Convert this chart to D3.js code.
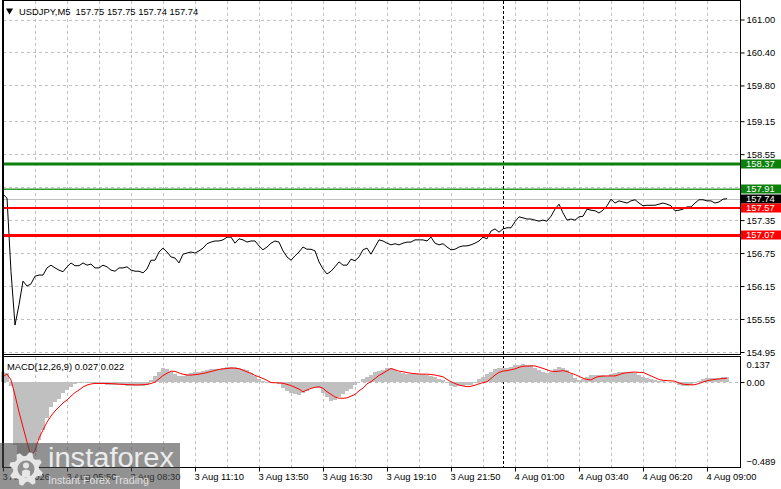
<!DOCTYPE html>
<html>
<head>
<meta charset="utf-8">
<script src="https://cdn.jsdelivr.net/npm/d3@7"></script>
<style>
    html, body { margin: 0; padding: 0; background: #fff; }
    svg { display: block; font-family: "Liberation Sans", Arial, sans-serif; }
</style>
</head>
<body>
<svg id="chart" width="781" height="489"></svg>
<script>
const symbol = "USDJPY,M5"
const lastOhlc = [157.75, 157.75, 157.74, 157.74]

// one value every 2 bars (10 minutes)
const closes = [
    157.82, 157.75, 156.41, 155.44, 155.81, 156.24, 156.15, 156.19, 156.33, 156.35,
    156.35, 156.48, 156.53, 156.48, 156.44, 156.41, 156.50, 156.57, 156.52, 156.52,
    156.57, 156.53, 156.55, 156.48, 156.48, 156.53, 156.50, 156.44, 156.42, 156.48,
    156.48, 156.50, 156.44, 156.42, 156.42, 156.39, 156.46, 156.62, 156.62, 156.77,
    156.84, 156.77, 156.68, 156.66, 156.57, 156.73, 156.75, 156.77, 156.75, 156.79,
    156.84, 156.92, 156.95, 156.97, 156.97, 156.99, 157.04, 157.04, 156.93, 157.01,
    156.99, 156.95, 156.97, 156.97, 156.88, 156.81, 156.86, 156.93, 156.97, 156.95,
    156.79, 156.68, 156.62, 156.70, 156.77, 156.86, 156.82, 156.82, 156.79, 156.59,
    156.46, 156.37, 156.42, 156.50, 156.59, 156.53, 156.53, 156.64, 156.61, 156.68,
    156.81, 156.84, 156.73, 156.86, 156.99, 156.97, 156.93, 156.90, 156.92, 156.90,
    156.93, 156.95, 156.95, 156.99, 156.99, 156.99, 156.97, 157.04, 156.93, 156.90,
    156.92, 156.86, 156.81, 156.82, 156.86, 156.88, 156.88, 156.90, 156.93, 156.97,
    157.04, 157.01, 157.15, 157.19, 157.13, 157.19, 157.21, 157.21, 157.32, 157.41,
    157.39, 157.37, 157.37, 157.35, 157.33, 157.35, 157.33, 157.42, 157.55, 157.64,
    157.48, 157.35, 157.37, 157.35, 157.41, 157.42, 157.55, 157.53, 157.52, 157.48,
    157.53, 157.61, 157.73, 157.66, 157.70, 157.68, 157.66, 157.70, 157.72, 157.66,
    157.61, 157.62, 157.62, 157.62, 157.64, 157.66, 157.64, 157.61, 157.52, 157.53,
    157.55, 157.59, 157.59, 157.66, 157.72, 157.72, 157.70, 157.70, 157.66, 157.68,
    157.73, 157.74
]

const macdMain = [
    0.057, 0.051, -0.023, -0.358, -0.432, -0.46, -0.47, -0.455, -0.40, -0.33,
    -0.273, -0.205, -0.142, -0.114, -0.097, -0.063, -0.046, -0.028, -0.011, -0.006,
    0, -0.005, -0.008, -0.01, -0.01, -0.012, -0.015, -0.015, -0.017, -0.017,
    -0.018, -0.02, -0.02, -0.02, -0.02, -0.02, -0.015, 0.01, 0.035, 0.06,
    0.078, 0.075, 0.06, 0.045, 0.035, 0.035, 0.045, 0.05, 0.055, 0.06,
    0.064, 0.068, 0.072, 0.074, 0.077, 0.08, 0.085, 0.087, 0.085, 0.08,
    0.074, 0.068, 0.05, 0.035, 0.02, 0.005, -0.005, -0.003, -0.005, -0.01,
    -0.035, -0.05, -0.063, -0.07, -0.073, -0.06, -0.05, -0.035, -0.03, -0.035,
    -0.065, -0.085, -0.11, -0.103, -0.085, -0.07, -0.05, -0.04, -0.015, 0.0,
    0.015, 0.03, 0.042, 0.055, 0.062, 0.07, 0.078, 0.078, 0.07, 0.058,
    0.05, 0.045, 0.045, 0.045, 0.045, 0.045, 0.04, 0.035, 0.03, 0.015,
    0.01, -0.005, -0.02, -0.026, -0.025, -0.02, -0.018, -0.015, -0.005, 0.015,
    0.03, 0.045, 0.06, 0.075, 0.078, 0.08, 0.082, 0.085, 0.095, 0.1,
    0.103, 0.1, 0.096, 0.08, 0.07, 0.055, 0.052, 0.06, 0.075, 0.084,
    0.08, 0.068, 0.045, 0.025, 0.013, 0.02, 0.03, 0.038, 0.04, 0.04,
    0.038, 0.035, 0.048, 0.052, 0.058, 0.058, 0.058, 0.055, 0.05, 0.04,
    0.03, 0.022, 0.015, 0.01, 0.007, 0.005, 0.003, 0.0, -0.005, -0.015,
    -0.02, -0.022, -0.015, -0.005, 0.008, 0.015, 0.025, 0.024, 0.025, 0.026,
    0.027, 0.027
]

const macdSignal = [
    0.03, 0.046, 0.012, -0.074, -0.17, -0.256, -0.341, -0.42, -0.39, -0.319,
    -0.273, -0.228, -0.193, -0.165, -0.142, -0.119, -0.102, -0.08, -0.06, -0.045,
    -0.028, -0.017, -0.011, -0.007, -0.008, -0.008, -0.008, -0.009, -0.01, -0.012,
    -0.013, -0.014, -0.015, -0.016, -0.016, -0.015, -0.013, -0.008, 0.0, 0.018,
    0.037, 0.05, 0.062, 0.061, 0.052, 0.045, 0.04, 0.04, 0.042, 0.045,
    0.049, 0.054, 0.06, 0.066, 0.072, 0.075, 0.077, 0.08, 0.079, 0.076,
    0.068, 0.058, 0.05, 0.038, 0.03, 0.02, 0.01, -0.003, -0.004, -0.005,
    -0.007, -0.013, -0.02, -0.03, -0.04, -0.055, -0.045, -0.036, -0.03, -0.027,
    -0.035, -0.055, -0.07, -0.085, -0.092, -0.092, -0.09, -0.08, -0.07, -0.05,
    -0.035, -0.01, 0.002, 0.02, 0.038, 0.05, 0.065, 0.077, 0.07, 0.062,
    0.059, 0.054, 0.05, 0.048, 0.046, 0.045, 0.045, 0.043, 0.04, 0.035,
    0.03, 0.015, 0.002, -0.008, -0.017, -0.022, -0.026, -0.024, -0.018, -0.01,
    -0.003, 0.002, 0.02, 0.04, 0.055, 0.063, 0.065, 0.07, 0.075, 0.084,
    0.09, 0.091, 0.092, 0.092, 0.085, 0.078, 0.07, 0.062, 0.06, 0.062,
    0.065, 0.06, 0.05, 0.043, 0.032, 0.022, 0.015, 0.012, 0.025, 0.032,
    0.034, 0.035, 0.035, 0.035, 0.042, 0.05, 0.053, 0.056, 0.057, 0.055,
    0.055, 0.045, 0.035, 0.025, 0.015, 0.01, 0.008, 0.007, 0.005, -0.005,
    -0.012, -0.014, -0.016, -0.015, -0.008, 0.0, 0.007, 0.012, 0.015, 0.018,
    0.02, 0.022
]
const macdLast = [0.027, 0.022]

const timeLabels = [
    "3 Aug 2026", "3 Aug 05:50", "3 Aug 08:30", "3 Aug 11:10", "3 Aug 13:50", "3 Aug 16:30",
    "3 Aug 19:10", "3 Aug 21:50", "4 Aug 01:00", "4 Aug 03:40", "4 Aug 06:20", "4 Aug 09:00"
]
// grid rows; 157.95 sits under the 157.91 box so its label is not shown
const priceGrid = [154.95, 155.55, 156.15, 156.75, 157.35, 157.95, 158.55, 159.15, 159.80, 160.40, 161.00]
const priceTicks = [154.95, 155.55, 156.15, 156.75, 157.35, 158.55, 159.15, 159.80, 160.40, 161.00]
const macdTicks = [0.137, 0, -0.489]

const targetLevels = [158.37, 157.91]
const stopLevels = [157.57, 157.07]
const bidPrice = 157.74
const daySeparatorBar = 250

// layout
const barsPerPoint = 2, labelEvery = 32, gridEvery = 16
const left = 3, right = 740
const pricePanel = { top: 0.5, bottom: 354.5 }
const macdPanel = { top: 356.5, bottom: 467.5 }
const fontSize = "9.4px"

const svg = d3.select("#chart")

const x = d3.scaleLinear().domain([0, 368.5]).range([left, right])
const yPrice = d3.scaleLinear().domain([154.95, 161.00]).range([352, 19.5])
const yMacd = d3.scaleLinear().domain([-0.489, 0.137]).range([468, 358])

const crisp = v => Math.round(v) + 0.5
const barX = (d, i) => x(i * barsPerPoint)

// grid
const grid = svg.append("g")
    .attr("stroke", "#c0c0c0")
    .attr("stroke-dasharray", "3,3")
    .attr("shape-rendering", "crispEdges")

const gridBars = d3.range(gridEvery, 368, gridEvery)
grid.selectAll(".vp").data(gridBars).enter().append("line")
    .attr("x1", d => crisp(x(d))).attr("x2", d => crisp(x(d)))
    .attr("y1", pricePanel.top).attr("y2", pricePanel.bottom)
grid.selectAll(".vm").data(gridBars).enter().append("line")
    .attr("x1", d => crisp(x(d))).attr("x2", d => crisp(x(d)))
    .attr("y1", macdPanel.top).attr("y2", macdPanel.bottom)
grid.selectAll(".hp").data(priceGrid).enter().append("line")
    .attr("x1", left).attr("x2", right)
    .attr("y1", d => crisp(yPrice(d))).attr("y2", d => crisp(yPrice(d)))
grid.append("line")
    .attr("x1", left).attr("x2", right)
    .attr("y1", crisp(yMacd(0))).attr("y2", crisp(yMacd(0)))

// day separator
svg.append("line")
    .attr("x1", crisp(x(daySeparatorBar))).attr("x2", crisp(x(daySeparatorBar)))
    .attr("y1", pricePanel.top).attr("y2", macdPanel.bottom)
    .attr("stroke", "#000").attr("stroke-dasharray", "3,2")
    .attr("shape-rendering", "crispEdges")

// MACD histogram
svg.append("g")
    .attr("fill", "#c0c0c0")
    .attr("shape-rendering", "crispEdges")
    .selectAll("rect").data(macdMain).enter().append("rect")
    .attr("x", (d, i) => barX(d, i) - 2)
    .attr("width", 4)
    .attr("y", d => Math.min(yMacd(d), yMacd(0)))
    .attr("height", d => Math.abs(yMacd(d) - yMacd(0)))

svg.append("path")
    .datum(macdSignal)
    .attr("fill", "none")
    .attr("stroke", "#ff0000")
    .attr("stroke-width", 1)
    .attr("d", d3.line().x(barX).y(d => yMacd(d)))

// bid line
svg.append("line")
    .attr("x1", left).attr("x2", right)
    .attr("y1", crisp(yPrice(bidPrice))).attr("y2", crisp(yPrice(bidPrice)))
    .attr("stroke", "#c0c0c0")
    .attr("shape-rendering", "crispEdges")

// price line
svg.append("path")
    .datum(closes)
    .attr("fill", "none")
    .attr("stroke", "#000")
    .attr("stroke-width", 1)
    .attr("d", d3.line().x(barX).y(d => yPrice(d)))

// levels
const targetColor = ["#0b800b", "#2e9b2e"], targetWidth = [3, 1.5]
const stopWidth = [2, 3]
svg.selectAll(".target").data(targetLevels).enter().append("line")
    .attr("x1", left).attr("x2", right)
    .attr("y1", d => yPrice(d)).attr("y2", d => yPrice(d))
    .attr("stroke", (d, i) => targetColor[i])
    .attr("stroke-width", (d, i) => targetWidth[i])
svg.selectAll(".stop").data(stopLevels).enter().append("line")
    .attr("x1", left).attr("x2", right)
    .attr("y1", d => yPrice(d)).attr("y2", d => yPrice(d))
    .attr("stroke", "#ff0000")
    .attr("stroke-width", (d, i) => stopWidth[i])

// frames
const frame = svg.append("g")
    .attr("fill", "none").attr("stroke", "#000")
    .attr("shape-rendering", "crispEdges")
frame.append("rect")
    .attr("x", 2.5).attr("y", pricePanel.top)
    .attr("width", right - 2).attr("height", pricePanel.bottom - pricePanel.top)
frame.append("rect")
    .attr("x", 2.5).attr("y", macdPanel.top)
    .attr("width", right - 2).attr("height", macdPanel.bottom - macdPanel.top)
frame.append("line")
    .attr("x1", 2.5).attr("x2", 2.5).attr("y1", 0).attr("y2", macdPanel.bottom)
    .attr("stroke-width", 2)

// price axis
const priceAxis = svg.append("g")
    .attr("transform", `translate(${right + 0.5},0)`)
    .call(d3.axisRight(yPrice).tickValues(priceTicks).tickFormat(d3.format(".2f")).tickSize(4).tickPadding(2))
priceAxis.select(".domain").remove()

// macd axis
const macdAxis = svg.append("g")
    .attr("transform", `translate(${right + 0.5},0)`)
    .call(d3.axisRight(yMacd).tickValues(macdTicks)
        .tickFormat(d => d === 0 ? "0.00" : d3.format(".3f")(d)).tickSize(4).tickPadding(2))
macdAxis.select(".domain").remove()
macdAxis.selectAll(".tick").filter(d => d !== 0).select("line").remove()
macdAxis.selectAll(".tick").filter(d => d === 0.137).select("text").attr("y", 6.5)
macdAxis.selectAll(".tick").filter(d => d === -0.489).select("text").attr("y", -6.3)

// time axis
const timeAxis = svg.append("g")
    .attr("transform", `translate(0,${macdPanel.bottom})`)
    .call(d3.axisBottom(x).tickValues(timeLabels.map((d, i) => i * labelEvery))
        .tickFormat((d, i) => timeLabels[i]).tickSize(4).tickPadding(2))
timeAxis.select(".domain").remove()
timeAxis.selectAll("text").attr("text-anchor", "start").attr("dx", -1)

svg.selectAll(".tick text")
    .attr("font-family", "Liberation Sans, Arial, sans-serif")
    .attr("font-size", fontSize).attr("fill", "#000")
svg.selectAll(".tick line").attr("stroke", "#000")

// level boxes
const boxes = [
    { v: targetLevels[0], fill: "#0b800b" },
    { v: targetLevels[1], fill: "#0b800b" },
    { v: bidPrice, fill: "#000" },
    { v: stopLevels[0], fill: "#ff0000" },
    { v: stopLevels[1], fill: "#ff0000" }
]
const box = svg.selectAll(".box").data(boxes).enter().append("g")
    .attr("transform", d => `translate(741,${Math.round(yPrice(d.v))})`)
box.append("rect")
    .attr("x", 0).attr("y", -4.5).attr("width", 40).attr("height", 9)
    .attr("fill", d => d.fill)
box.append("text")
    .attr("x", 5).attr("y", 3.4)
    .attr("font-size", fontSize).attr("fill", "#fff")
    .text(d => d3.format(".2f")(d.v))

// header
svg.append("path")
    .attr("d", d3.symbol(d3.symbolTriangle, 22)())
    .attr("transform", "translate(9.5,10.5) rotate(180)")
    .attr("fill", "#000")
svg.append("text")
    .attr("x", 19).attr("y", 14.5)
    .attr("font-size", fontSize)
    .attr("xml:space", "preserve")
    .text(`${symbol}  ${lastOhlc.map(d3.format(".2f")).join(" ")}`)
svg.append("text")
    .attr("x", 7).attr("y", 369.5)
    .attr("font-size", fontSize)
    .text(`MACD(12,26,9) ${macdLast.map(d3.format(".3f")).join(" ")}`)

// watermark
const wm = svg.append("g")
wm.append("rect")
    .attr("x", 0).attr("y", 443).attr("width", 180).attr("height", 46)
    .attr("fill", "#4a4a4a").attr("opacity", 0.6)

const teeth = 8
const gearPts = d3.range(teeth * 4).map(i => [i / (teeth * 4) * 2 * Math.PI + 0.2, (i % 4 < 2) ? 17 : 13])
const gear = wm.append("g").attr("transform", "translate(26,469)")
gear.append("path")
    .attr("d", d3.lineRadial().curve(d3.curveLinearClosed)(gearPts))
    .attr("fill", "#e6e6e6")
gear.append("circle").attr("r", 8.5).attr("fill", "#8f8f8f")
gear.append("circle").attr("cy", -3.5).attr("r", 3).attr("fill", "#e6e6e6")
gear.append("path").attr("d", "M-4,8 L-4,2 Q0,-1 4,2 L4,8 Z").attr("fill", "#e6e6e6")

wm.append("text")
    .attr("x", 48).attr("y", 467)
    .attr("font-size", "27px")
    .attr("textLength", 126).attr("lengthAdjust", "spacingAndGlyphs")
    .attr("fill", "#ececec")
    .text("instaforex")
wm.append("text")
    .attr("x", 48).attr("y", 484)
    .attr("font-size", "11.5px")
    .attr("textLength", 101).attr("lengthAdjust", "spacingAndGlyphs")
    .attr("fill", "#e0e0e0")
    .text("Instant Forex Trading")
</script>
</body>
</html>
